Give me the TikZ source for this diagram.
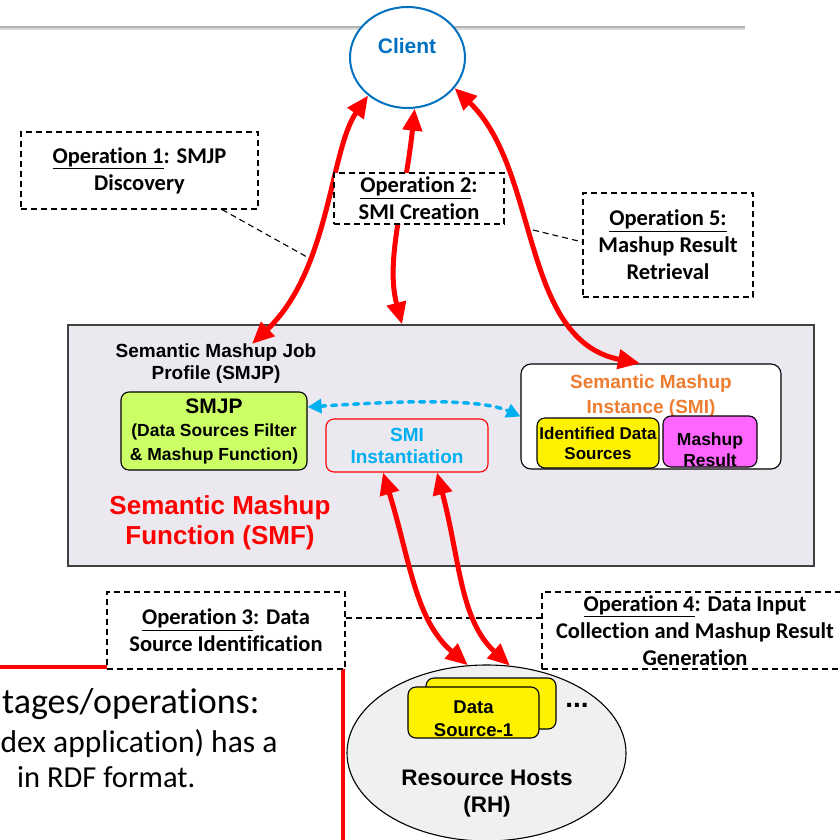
\documentclass[tikz,border=0pt]{standalone}
\usepackage{fontspec}
\setmainfont{Liberation Sans}
\newfontfamily\calfont[Ligatures=NoCommon]{Carlito}
\usetikzlibrary{arrows.meta,shapes.geometric}
\newcommand\setfs[2]{\fontsize{#1}{#2}\selectfont}
\definecolor{clientblue}{RGB}{0,112,192}
\definecolor{smicyan}{RGB}{0,176,240}
\definecolor{smiorange}{RGB}{237,125,49}
\definecolor{smfbg}{RGB}{235,232,240}
\definecolor{smjpgreen}{RGB}{204,255,102}
\definecolor{mashpink}{RGB}{255,102,255}
\definecolor{rhgray}{RGB}{240,240,240}
\tikzset{
  opbox/.style={draw=black, dash pattern=on 6pt off 4pt, line width=1.1pt, fill=white,
    align=center, inner sep=0pt, font=\calfont\bfseries\setfs{22.5}{27}},
  leader/.style={draw=black, dash pattern=on 6pt off 4pt, line width=1.1pt},
  redarrow/.style={red, line width=5pt,
    {Triangle[length=22pt,width=19pt]}-{Triangle[length=22pt,width=19pt]}},
  blk/.style={font=\bfseries\setfs{19}{22}, align=center, inner sep=0pt},
  rbox/.style={draw=black, rounded corners=8pt, line width=1.1pt, inner sep=0pt, align=center},
}
\begin{document}
\begin{tikzpicture}[x=1pt,y=-1pt]
\useasboundingbox (0,0) rectangle (840,840);
\clip (0,0) rectangle (840,840);

% header rule
\draw[line width=2.2pt, gray!60] (0,27.2) -- (745,27.2);
\draw[line width=1.8pt, gray!28] (0,29.4) -- (745,29.4);

% client
\node[ellipse, draw=clientblue, line width=2pt, fill=white, minimum width=115pt,
  minimum height=101pt, inner sep=0pt] (client) at (407.5,57.5) {};
\node[font=\bfseries\setfs{21}{24}, text=clientblue, inner sep=0pt] (clientlbl) at (407,46) {Client};

% semantic mashup function
\node[draw=black!75, line width=1.3pt, fill=smfbg, minimum width=746pt, minimum height=241pt,
  inner sep=0pt] (smf) at (441,445.5) {};
\node[blk] (smjplabel) at (216,364) {Semantic Mashup Job\\Profile (SMJP)};
\node[rbox, fill=smjpgreen, minimum width=186pt, minimum height=78pt,
  font=\bfseries\setfs{17.5}{23.5}] (smjp) at (214,431)
  {{\setfs{21}{24}SMJP}\\(Data Sources Filter\\\& Mashup Function)};
\node[rbox, draw=red, minimum width=162pt, minimum height=53pt, text=smicyan,
  font=\bfseries\setfs{19}{22}] (smiinst) at (407,445.5) {SMI\\Instantiation};
\node[rbox, fill=white, rounded corners=10pt, minimum width=260pt, minimum height=105pt] (smi) at (651,416.5) {};
\node[blk, text=smiorange, font=\bfseries\setfs{19}{25}] (smitext) at (651,396) {Semantic Mashup\\Instance (SMI)};
\node[rbox, fill=yellow, minimum width=122pt, minimum height=50pt,
  font=\bfseries\setfs{17}{20}] (ids) at (598,443) {Identified Data\\Sources};
\node[rbox, fill=mashpink, minimum width=94pt, minimum height=51pt] (mres) at (710,441.5) {};
\node[blk, font=\bfseries\setfs{17.5}{21}] (mrestext) at (710,450) {Mashup\\Result};
\node[blk, text=red, font=\bfseries\setfs{26}{30}] (smftitle) at (220,523) {Semantic Mashup\\Function (SMF)};

% notes panel
\node[draw=red, line width=4.5pt, fill=white, minimum width=353pt, minimum height=193pt,
  inner sep=0pt] (notebox) at (166.5,763.5) {};
\node[anchor=base west, inner sep=0pt, font=\calfont\setfs{36}{40}] (note1) at (2,713) {tages/operations:};
\node[anchor=base west, inner sep=0pt, font=\calfont\setfs{31.5}{36}] (note2) at (0.5,752) {dex application) has a};
\node[anchor=base west, inner sep=0pt, font=\calfont\setfs{30.5}{36}] (note3) at (17,787) {in RDF format.};

% resource hosts
\node[ellipse, draw=black, line width=1.1pt, fill=rhgray, minimum width=279pt,
  minimum height=176pt, inner sep=0pt] (rh) at (486.5,753) {};
\node[rbox, fill=yellow, minimum width=130pt, minimum height=51pt] (ds2) at (491,703.5) {};
\node[rbox, fill=yellow, minimum width=131pt, minimum height=51pt] (ds1) at (473.5,712.5) {};
\node[blk, font=\bfseries\setfs{18.5}{23}] (ds1text) at (473.5,719) {Data\\Source-1};
\node[font=\bfseries\setfs{28}{30}, inner sep=0pt] (dots) at (577,705) {...};
\node[blk, font=\bfseries\setfs{22.5}{27}] (rhtext) at (487,794) {Resource Hosts\\(RH)};

% operations 3 and 4
\node[opbox, minimum width=238pt, minimum height=77pt] (op3) at (226,630.5)
  {\underline{Operation 3}: Data\\Source Identification};
\node[opbox, minimum width=306pt, minimum height=77pt] (op4) at (695,630.5)
  {\underline{Operation 4}: Data Input\\Collection and Mashup Result\\Generation};
\draw[leader] ([yshift=12.5pt]op3.east) -- ([yshift=12.5pt]op4.west);

% operation flows
\draw[redarrow] (client.224) .. controls (330,150) and (330,270) .. ([xshift=36pt]smjplabel.north);
\draw[redarrow] (client.278) .. controls (405,200) and (385,260) .. ([xshift=-39pt]smf.north);
\draw[redarrow] (client.327) .. controls (540,170) and (520,340) .. ([xshift=-11pt]smi.north);
\draw[redarrow] ([xshift=-24pt]smiinst.south) .. controls (410,560) and (415,620) .. (rh.102);
\draw[redarrow] ([xshift=30pt]smiinst.south) .. controls (460,560) and (460,620) .. (rh.75);
\draw[smicyan, line width=3.5pt, line cap=round, dash pattern=on 5pt off 6pt,
  {Triangle[length=14pt,width=14pt]}-{Triangle[length=14pt,width=14pt]}]
  ([yshift=24pt]smjp.east) .. controls (400,401) and (480,398) .. (smi.west);

% operations 1, 2 and 5
\node[opbox, minimum width=237pt, minimum height=77pt] (op1) at (139.5,170.5)
  {\underline{Operation 1}: SMJP\\Discovery};
\node[opbox, minimum width=170pt, minimum height=51pt] (op2) at (419,198.5)
  {\underline{Operation 2}:\\SMI Creation};
\node[opbox, minimum width=170pt, minimum height=104pt] (op5) at (668,245)
  {\underline{Operation 5:}\\Mashup Result\\Retrieval};
\coordinate (l1) at (307,257);
\coordinate (l5) at (533,230);
\draw[leader] ([xshift=82.5pt]op1.south) -- (l1);
\draw[leader] (l5) -- ([yshift=3pt]op5.west);
\end{tikzpicture}
\end{document}
